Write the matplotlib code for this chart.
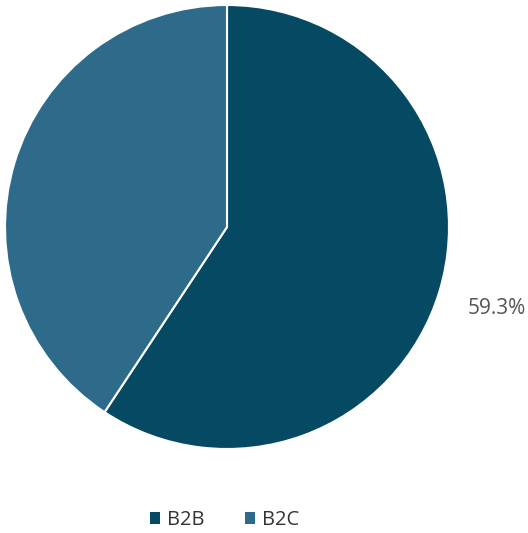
import matplotlib.pyplot as plt
from matplotlib.patches import Patch

# data
categories = ['B2B', 'B2C']
shares = [59.3, 40.7]
colors = ['#054a62', '#2e6b8a']

plt.rcParams['font.family'] = ['Open Sans', 'DejaVu Sans']

fig = plt.figure(figsize=(5.28, 5.33), dpi=100)
ax = fig.add_axes([5 / 528, (533 - 449) / 533, 444 / 528, 444 / 533])

wedges, texts = ax.pie(shares, colors=colors, startangle=90, counterclock=False,
                       labels=['%.1f%%' % shares[0], ''], labeldistance=1.27,
                       wedgeprops=dict(edgecolor='white', linewidth=1.5),
                       textprops=dict(color='#555555', fontsize=15))
for t in texts:
    t.set_ha('center')
    t.set_va('center')
    t.set_clip_on(False)
ax.set_xlim(-1, 1)
ax.set_ylim(-1, 1)
ax.set_aspect('equal')

handles = [Patch(facecolor=c, label=l) for c, l in zip(colors, categories)]
fig.legend(handles=handles, loc='center', bbox_to_anchor=(0.425, 0.024), ncol=2,
           frameon=False, fontsize=14.5, handlelength=0.5, handleheight=0.5,
           handletextpad=0.35, columnspacing=2.0, labelcolor='#333333')

fig.savefig('out.png', dpi=100)
